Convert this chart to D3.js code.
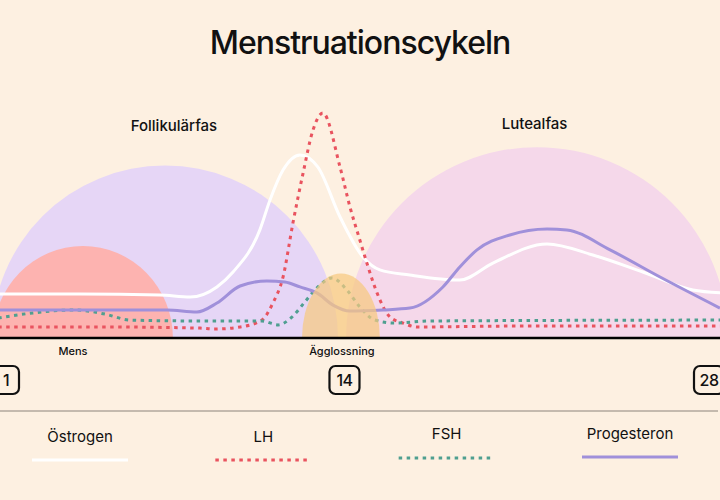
<!doctype html>
<html>
  <head>
    <meta charset="utf-8">
    <title>Menstruationscykeln</title>
    <style>
      body { margin: 0; background: #fdf0e1; }
      svg { display: block; font-family: Inter, "Noto Sans", sans-serif; }
      .title { font-size: 32px; font-weight: 500; letter-spacing: -1px; }
      .phase { font-size: 15px; font-weight: 500; }
      .event { font-size: 11px; font-weight: 500; }
      .tick text { font-size: 16px; font-weight: 500; }
      .legend text { font-size: 15px; }
    </style>
  </head>
  <body>

  <script src="https://d3js.org/d3.v7.min.js" charset="utf-8"></script>

    <script>
      // hormone levels, [cycle day, relative level]
      var estrogen = [[0.7,19.1],[3.84,19.1],[6.91,18.7],[8.07,17.8],[9.1,22.2],[9.72,28.7],[10.75,47],[11.14,60],
        [11.64,73],[12.29,79.6],[12.98,74.3],[13.83,52.6],[14.71,35.2],[15.36,29.6],[16.51,27.4],[18.43,25.2],
        [19.7,32.6],[21.78,40.9],[23.54,36.1],[25.46,28.7],[27.38,20.9],[28.5,19.6]];
      var lh = [[0.7,4.8],[4.6,4.8],[8.45,4.3],[9.0,3.9],[10.0,4.8],[10.83,7.8],[11.25,15.2],[11.64,26.5],
        [12.02,50],[12.41,71.7],[12.79,90.4],[13.17,97.8],[13.83,74.3],[14.21,57],[14.59,42.6],[14.86,32.6],
        [15.25,19.6],[15.75,9.1],[16.25,6.5],[16.78,4.8],[20.7,5.2],[28.5,5.2]];
      var fsh = [[0.7,8.7],[2.04,10.9],[3.65,12.2],[4.8,10.4],[5.76,7.8],[8.45,7.4],[10.83,7.4],[11.45,5.7],
        [11.98,9.1],[12.48,15.7],[12.98,22.2],[13.52,26.1],[14.09,20.9],[14.59,13.5],[15.17,7.8],[15.94,6.5],
        [17.28,7.4],[28.5,7.8]];
      var progesterone = [[0.7,12.2],[4.61,12.2],[7.18,12.2],[8.33,11.3],[9.1,15.2],[9.99,22.6],[11.02,24.8],
        [11.71,24.3],[12.29,22.2],[12.94,19.6],[13.56,14.3],[14.21,11.7],[15.48,12.2],[16.51,13],[17.78,22.2],
        [18.43,30.9],[19.09,38.3],[20.35,44.8],[21.78,47.4],[22.54,47],[24.2,38.3],[26.12,26.5],[28.42,13]];

      // phases: start day, end day, height
      var phaseNames = ["Follikulärfas", "Lutealfas", "Mens", "Ägglossning"];
      var phaseStart = [0.46, 14.06, 0.5, 12.37];
      var phaseEnd = [13.75, 28.73, 7.41, 15.36];
      var phaseHeight = [75, 83, 40, 28];
      var phaseLabelDay = [7.45, 21.3, 3.57, 13.9];

      var tickDays = [1, 14, 28];
      var legendNames = ["Östrogen", "LH", "FSH", "Progesteron"];

      var width = 720, height = 500;

      var x = d3.scaleLinear().domain([1, 28]).range([6, 709]);
      var y = d3.scaleLinear().domain([0, 100]).range([338, 108]);

      var svg = d3.select("body").append("svg")
        .attr("width", width)
        .attr("height", height);

      svg.append("rect").attr("width", width).attr("height", height).attr("fill", "#fdf0e1");

      svg.append("text")
        .attr("class", "title")
        .attr("x", 360).attr("y", 54)
        .attr("text-anchor", "middle")
        .attr("fill", "#111")
        .text("Menstruationscykeln");

      function halfEllipse(i) {
        var x0 = x(phaseStart[i]), x1 = x(phaseEnd[i]);
        var rx = (x1 - x0) / 2, ry = y(0) - y(phaseHeight[i]);
        return "M" + x0 + "," + y(0) + " A" + rx + "," + ry + " 0 0 1 " + x1 + "," + y(0) + " Z";
      }

      var phaseFill = ["#e6d6f6", "#f5d8ea", "#fdb3b0", "#f7c97f"];

      // background phases (follicular, luteal, menstruation)
      [0, 1, 2].forEach(function(i) {
        svg.append("path").attr("d", halfEllipse(i)).attr("fill", phaseFill[i]);
      });

      var line = d3.line()
        .x(function(d) { return x(d[0]); })
        .y(function(d) { return y(d[1]); })
        .curve(d3.curveMonotoneX);

      var series = [
        { data: estrogen, color: "#ffffff", dash: null },
        { data: lh, color: "#e9535f", dash: "3.5,4.5" },
        { data: fsh, color: "#4f9f90", dash: "3.5,4.5" },
        { data: progesterone, color: "#a090da", dash: null }
      ];

      series.forEach(function(s) {
        svg.append("path")
          .datum(s.data)
          .attr("fill", "none")
          .attr("stroke", s.color)
          .attr("stroke-width", 3)
          .attr("stroke-dasharray", s.dash)
          .attr("d", line);
      });

      // ovulation sits on top of the lines
      svg.append("path").attr("d", halfEllipse(3)).attr("fill", phaseFill[3]).attr("opacity", 0.72);

      // phase titles
      [0, 1].forEach(function(i) {
        svg.append("text")
          .attr("class", "phase")
          .attr("x", x(phaseLabelDay[i])).attr("y", i == 0 ? 131 : 129)
          .attr("text-anchor", "middle")
          .attr("fill", "#111")
          .text(phaseNames[i]);
      });
      [2, 3].forEach(function(i) {
        svg.append("text")
          .attr("class", "event")
          .attr("x", x(phaseLabelDay[i])).attr("y", 355)
          .attr("text-anchor", "middle")
          .attr("fill", "#111")
          .text(phaseNames[i]);
      });

      // baseline
      svg.append("line")
        .attr("x1", 0).attr("x2", width)
        .attr("y1", y(0)).attr("y2", y(0))
        .attr("stroke", "#000").attr("stroke-width", 2.5);

      // day ticks in rounded boxes
      var ticks = svg.append("g").attr("class", "tick")
        .selectAll("g").data(tickDays).join("g")
        .attr("transform", function(d) { return "translate(" + x(d) + ",380)"; });
      ticks.append("rect")
        .attr("x", function(d) { return d < 10 ? -13 : -15; }).attr("y", -14)
        .attr("width", function(d) { return d < 10 ? 26 : 30; }).attr("height", 28)
        .attr("rx", 6)
        .attr("fill", "none").attr("stroke", "#111").attr("stroke-width", 2.2);
      ticks.append("text")
        .attr("text-anchor", "middle").attr("dy", "0.36em")
        .attr("letter-spacing", "-0.5px")
        .attr("fill", "#111")
        .text(function(d) { return d; });

      svg.append("line")
        .attr("x1", 0).attr("x2", 718)
        .attr("y1", 411).attr("y2", 411)
        .attr("stroke", "#8c837a").attr("stroke-width", 1);

      // legend
      var legendX = d3.scalePoint().domain(legendNames).range([80, 630]);
      var legendTextY = [442, 442, 439, 439];
      var legendLineY = [460, 460, 458, 457];
      var legend = svg.append("g").attr("class", "legend");
      legendNames.forEach(function(name, i) {
        var cx = legendX(name);
        legend.append("text")
          .attr("x", cx).attr("y", legendTextY[i])
          .attr("text-anchor", "middle")
          .attr("fill", "#111")
          .text(name);
        legend.append("line")
          .attr("x1", cx - 48).attr("x2", cx + 48)
          .attr("y1", legendLineY[i]).attr("y2", legendLineY[i])
          .attr("stroke", series[i].color)
          .attr("stroke-width", 3)
          .attr("stroke-dasharray", series[i].dash);
      });
    </script>

  </body>
</html>
